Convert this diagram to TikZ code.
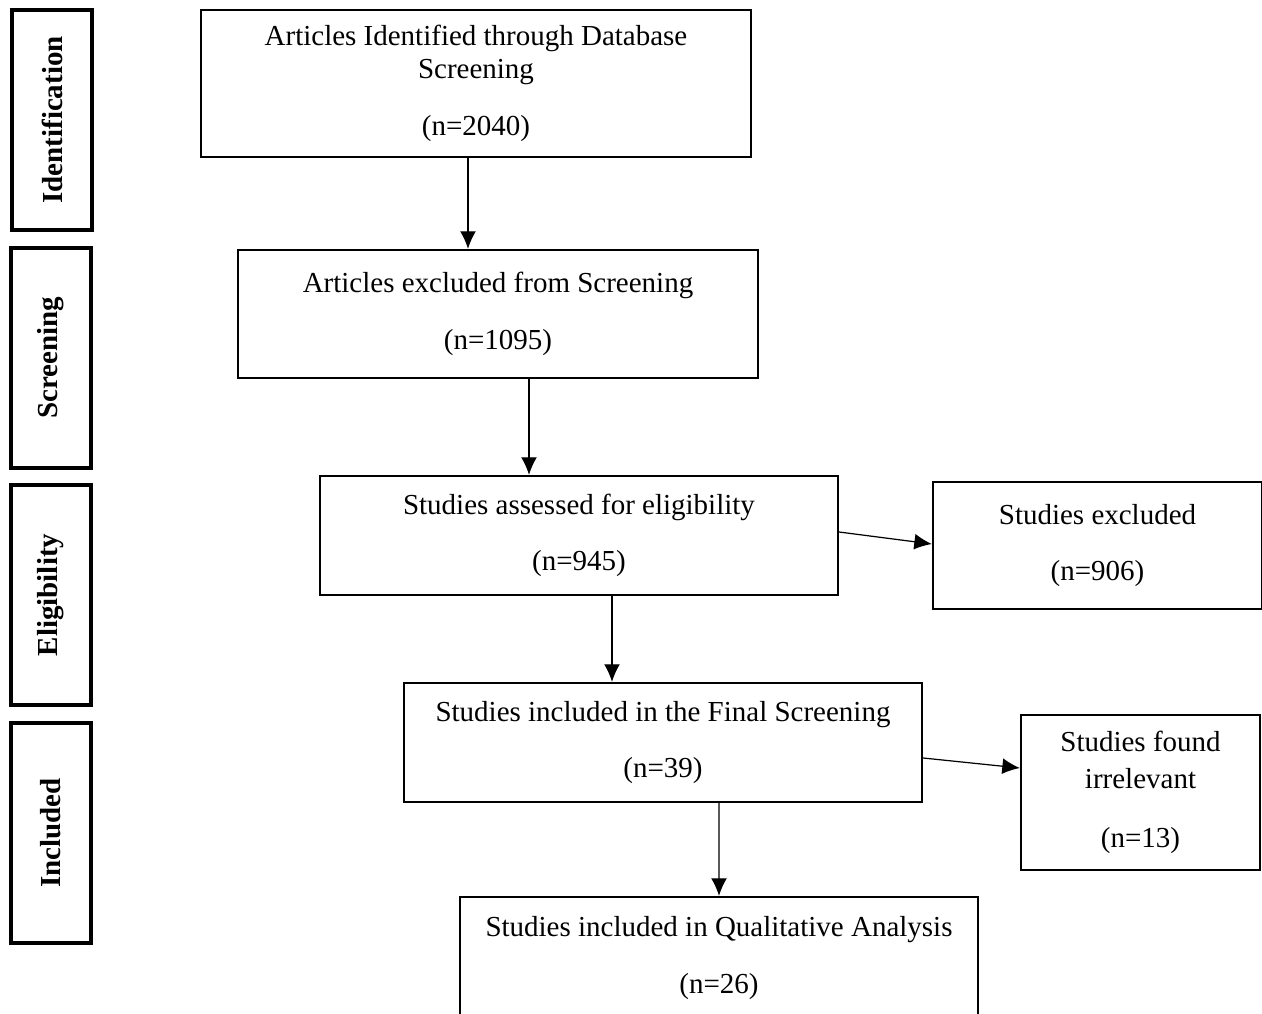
\documentclass[tikz,border=0pt]{standalone}
\usepackage{fontspec}
\setmainfont{Liberation Serif}
\usepackage{tikz}
\usetikzlibrary{arrows.meta,positioning}

\begin{document}
\begin{tikzpicture}[x=0.02cm,y=-0.02cm,
        phase/.style={draw,line width=2.2pt,rotate=90,minimum width=4.4cm,minimum height=1.6cm,inner sep=0pt,font=\fontsize{16.5pt}{18pt}\selectfont\bfseries},
        stage/.style={draw,line width=1.3pt,align=center,inner sep=0pt,font=\fontsize{16.5pt}{18.8pt}\selectfont},
        arr/.style={-{Latex[length=10pt,width=9pt]},line width=0.7pt}]
\useasboundingbox (0,0) rectangle (1262,1014);

\node[phase] (ident) at (52,120) {Identification};
\node[phase] (screen) at (51,358) {Screening};
\node[phase] (elig) at (51,595) {Eligibility};
\node[phase] (incl) at (51,833) {Included};

\node[stage,minimum width=11cm,minimum height=2.94cm] (a) at (476,83.5) {Articles Identified through Database\\Screening\\[13.5pt](n=2040)};
\node[stage,minimum width=10.4cm,minimum height=2.56cm] (b) at (498,314) {Articles excluded from Screening\\[13.5pt](n=1095)};
\node[stage,minimum width=10.36cm,minimum height=2.38cm] (c) at (579,535.5) {Studies assessed for eligibility\\[13.5pt](n=945)};
\node[stage,minimum width=6.58cm,minimum height=2.54cm] (d) at (1097.5,545.5) {Studies excluded\\[13.5pt](n=906)};
\node[stage,minimum width=10.36cm,minimum height=2.38cm] (e) at (663,742.5) {Studies included in the Final Screening\\[13.5pt](n=39)};
\node[stage,minimum width=4.78cm,minimum height=3.1cm] (f) at (1140.5,792.5) {Studies found\\[2.2pt]irrelevant\\[14.7pt](n=13)};
\node[stage,minimum width=10.36cm,minimum height=2.44cm] (g) at (719,958) {Studies included in Qualitative Analysis\\[13.5pt](n=26)};

\draw[arr] ([xshift=-0.16cm]a.south) -- ([xshift=-0.16cm]a.south |- b.north);
\draw[arr] ([xshift=0.62cm]b.south) -- ([xshift=0.62cm]b.south |- c.north);
\draw[arr] ([xshift=0.66cm]c.south) -- ([xshift=0.66cm]c.south |- e.north);
\draw[arr] ([xshift=1.12cm]e.south) -- (g.north);
\draw[arr] ([yshift=0.07cm]c.east) -- ([yshift=0.03cm]d.west);
\draw[arr] ([yshift=-0.31cm]e.east) -- ([yshift=0.49cm]f.west);
\end{tikzpicture}
\end{document}
